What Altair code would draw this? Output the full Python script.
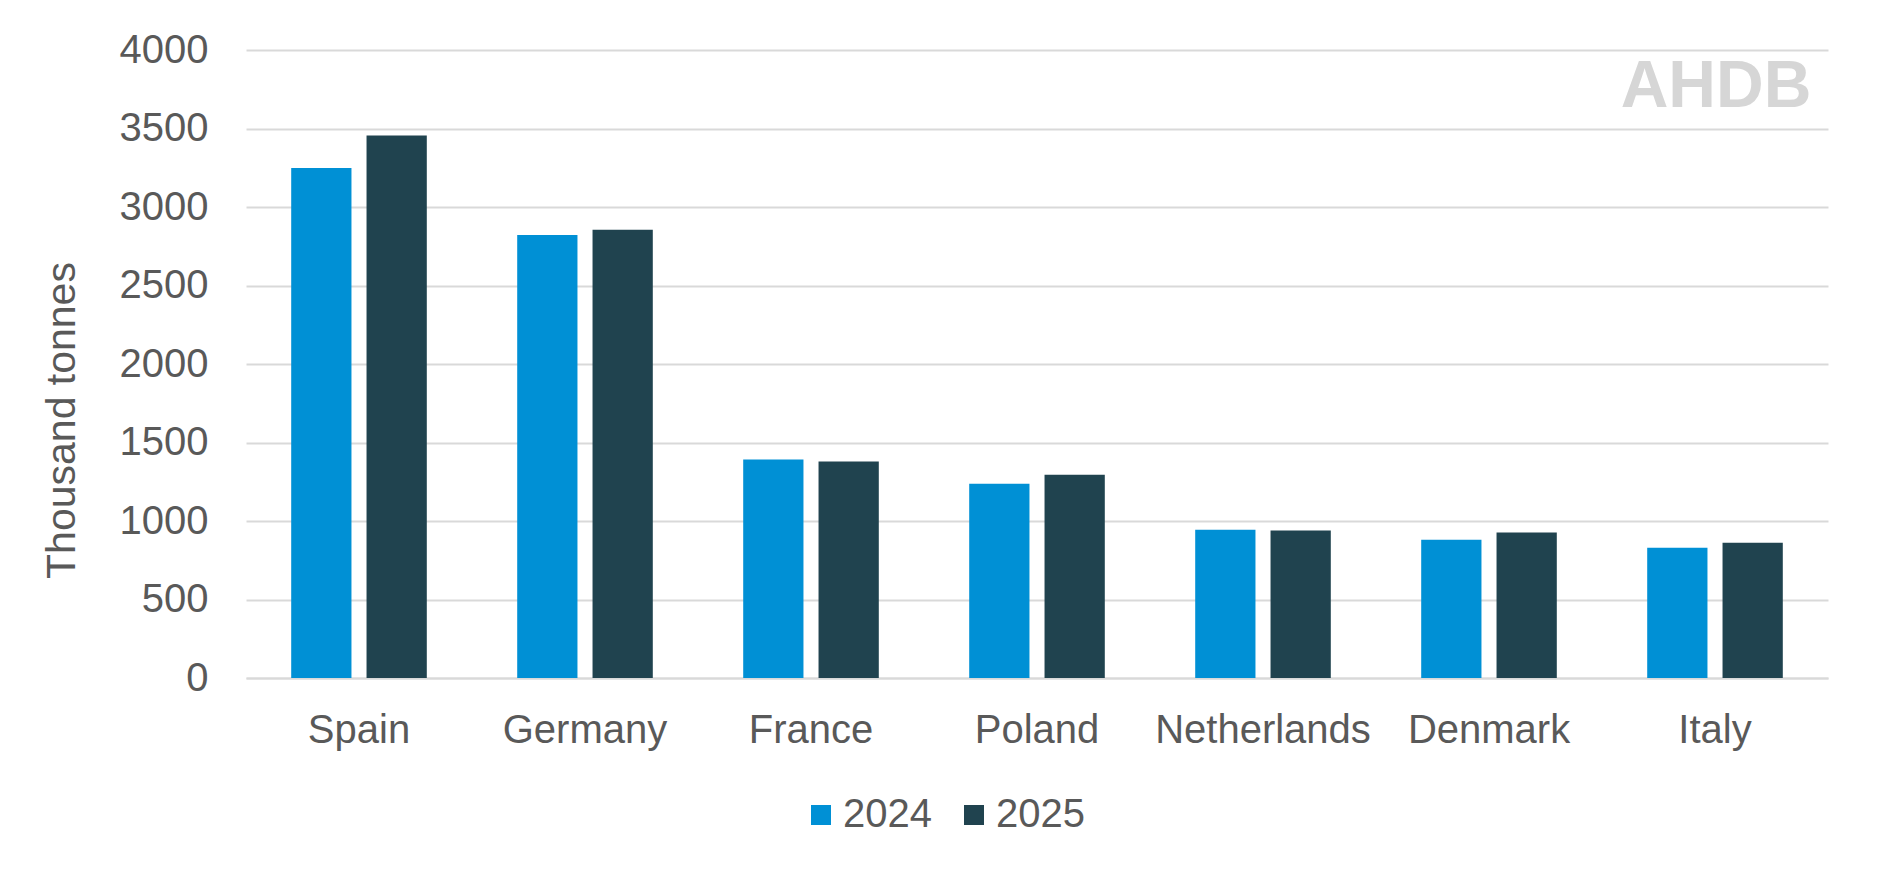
import altair as alt
import pandas as pd

countries = ["Spain", "Germany", "France", "Poland", "Netherlands", "Denmark", "Italy"]
years = ["2024", "2025"]
values_2024 = [3249, 2821, 1391, 1238, 945, 881, 830]
values_2025 = [3455, 2855, 1379, 1295, 939, 926, 862]
y_ticks = [0, 500, 1000, 1500, 2000, 2500, 3000, 3500, 4000]
colors = ["#0090d5", "#20434f"]

rows = []
for c, a, b in zip(countries, values_2024, values_2025):
    rows.append({"country": c, "year": "2024", "value": a})
    rows.append({"country": c, "year": "2025", "value": b})
df = pd.DataFrame(rows)

FONT = "Liberation Sans"
TXT = "#595959"
GRID = "#d9d9d9"

bars = alt.Chart(df).mark_bar().encode(
    x=alt.X(
        "country:N",
        sort=countries,
        scale=alt.Scale(paddingInner=0.4, paddingOuter=0.2),
        axis=alt.Axis(
            title=None, labelAngle=0, labelFontSize=40, labelColor=TXT, labelFont=FONT,
            ticks=False, domainColor=GRID, domainWidth=2, labelPadding=64,
            labelBaseline="alphabetic", grid=False, labelLimit=0,
        ),
    ),
    xOffset=alt.XOffset("year:N", sort=years, scale=alt.Scale(paddingInner=0.2, paddingOuter=0)),
    y=alt.Y(
        "value:Q",
        scale=alt.Scale(domain=[0, 4000], nice=False),
        axis=alt.Axis(
            values=y_ticks, format="d", title="Thousand tonnes", titleFontSize=41, titleFont=FONT,
            titleColor=TXT, titleFontWeight="normal", titleX=-184, titleY=370,
            titleAlign="center", titleBaseline="middle", titleAngle=270,
            labelFontSize=40, labelColor=TXT, labelFont=FONT, labelPadding=38,
            ticks=False, domain=False, grid=True, gridColor=GRID, gridWidth=2,
        ),
    ),
    color=alt.Color(
        "year:N",
        scale=alt.Scale(domain=years, range=colors),
        legend=alt.Legend(
            title=None, orient="none", legendX=555, legendY=745, direction="horizontal",
            symbolType="square", symbolSize=400, symbolStrokeWidth=0,
            labelFontSize=40, labelColor=TXT, labelFont=FONT, labelOffset=2,
            columnPadding=22, padding=0,
        ),
    ),
)

logo_df = pd.DataFrame({"t": ["AHDB"]})
logo = alt.Chart(logo_df).mark_text(
    fontSize=66, fontWeight="bold", font=FONT, color="#d6d6d6",
    align="center", baseline="alphabetic",
).encode(text="t:N", x=alt.value(1470), y=alt.value(57))

chart = alt.layer(bars, logo).properties(
    width=1582, height=628,
    autosize=alt.AutoSizeParams(type="none"),
    padding={"left": 238, "top": 42, "right": 40, "bottom": 180},
    background="white",
).configure_view(stroke=None)

chart.save("out.html", embed_options={"renderer": "svg", "actions": False})
